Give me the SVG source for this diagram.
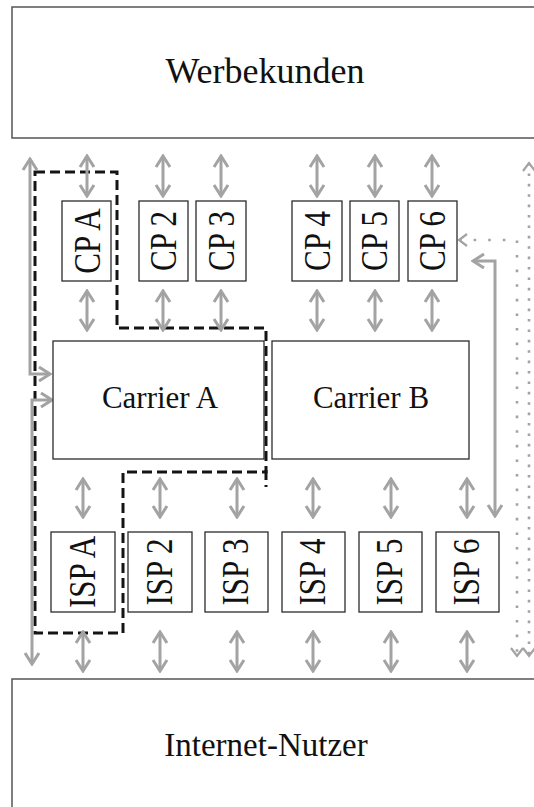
<svg xmlns="http://www.w3.org/2000/svg" width="534" height="807" viewBox="0 0 534 807">
<style>
.box{fill:#fff;stroke:#2b2b2b;stroke-width:1.3}
.big{fill:#fff;stroke:#555;stroke-width:1.5}
.t{font-family:"Liberation Serif","Times New Roman",serif;fill:#111;text-anchor:middle}
.a{fill:none;stroke:#a3a3a3;stroke-width:3;marker-start:url(#ah);marker-end:url(#ah)}
.d{fill:none;stroke:#a3a3a3;stroke-width:2.6;marker-start:url(#dh);marker-end:url(#dh)}
.dash{fill:none;stroke:#141414;stroke-width:3;stroke-dasharray:10 5}
</style>
<defs>
<marker id="ah" viewBox="-14 -9 16 18" refX="0" refY="0" markerWidth="16" markerHeight="18" orient="auto-start-reverse" markerUnits="userSpaceOnUse">
<path d="M-11,-7 L0,0 L-11,7" fill="none" stroke="#a3a3a3" stroke-width="3"/>
</marker>
<marker id="dh" viewBox="-12 -8 14 16" refX="0" refY="0" markerWidth="14" markerHeight="16" orient="auto-start-reverse" markerUnits="userSpaceOnUse">
<path d="M-8,-6 L0,0 L-8,6" fill="none" stroke="#a3a3a3" stroke-width="2.2"/>
</marker>
</defs>
<rect width="534" height="807" fill="#fff"/>
<g id="werbekunden"><rect class="big" x="12" y="7" width="540" height="131"/><text class="t" x="265" y="83" font-size="36">Werbekunden</text></g>
<g id="nutzer"><rect class="big" x="12" y="679" width="540" height="150"/><text class="t" x="266" y="756" font-size="33">Internet-Nutzer</text></g>
<g id="connectors">
<path class="dash" d="M35,172 H117 V328 H266 V472 H123 V633 H35 Z"/>
<path class="dash" d="M266,470 V487"/>
<line class="a" x1="87" y1="156" x2="87" y2="196"/>
<line class="a" x1="163" y1="156" x2="163" y2="196"/>
<line class="a" x1="221" y1="156" x2="221" y2="196"/>
<line class="a" x1="317" y1="156" x2="317" y2="196"/>
<line class="a" x1="375" y1="156" x2="375" y2="196"/>
<line class="a" x1="432" y1="156" x2="432" y2="196"/>
<line class="a" x1="87" y1="291" x2="87" y2="330"/>
<line class="a" x1="163" y1="291" x2="163" y2="330"/>
<line class="a" x1="221" y1="291" x2="221" y2="330"/>
<line class="a" x1="317" y1="291" x2="317" y2="330"/>
<line class="a" x1="375" y1="291" x2="375" y2="330"/>
<line class="a" x1="432" y1="291" x2="432" y2="330"/>
<line class="a" x1="83" y1="479" x2="83" y2="517"/>
<line class="a" x1="160" y1="479" x2="160" y2="517"/>
<line class="a" x1="237" y1="479" x2="237" y2="517"/>
<line class="a" x1="313" y1="479" x2="313" y2="517"/>
<line class="a" x1="391" y1="479" x2="391" y2="517"/>
<line class="a" x1="467" y1="479" x2="467" y2="517"/>
<line class="a" x1="83" y1="632" x2="83" y2="671"/>
<line class="a" x1="160" y1="632" x2="160" y2="671"/>
<line class="a" x1="237" y1="632" x2="237" y2="671"/>
<line class="a" x1="313" y1="632" x2="313" y2="671"/>
<line class="a" x1="391" y1="632" x2="391" y2="671"/>
<line class="a" x1="467" y1="632" x2="467" y2="671"/>
<path class="a" d="M30,159 V374 H50"/>
<path class="a" d="M52,400 H32 V664"/>
<path class="a" d="M473,261 H495 V516"/>
<path class="d" d="M529,163 V656" stroke-dasharray="2.6 7.8"/>
<path class="d" d="M459,240 H517 V656" stroke-dasharray="2.6 12"/>
</g>
<g id="cpA"><rect class="box" x="62" y="201" width="49" height="80"/><text class="t" font-size="37" transform="translate(100,241) rotate(-90) scale(0.84,1)">CP A</text></g>
<g id="cp2"><rect class="box" x="139" y="201" width="49" height="80"/><text class="t" font-size="37" transform="translate(176,241) rotate(-90) scale(0.84,1)">CP 2</text></g>
<g id="cp3"><rect class="box" x="196" y="201" width="50" height="80"/><text class="t" font-size="37" transform="translate(234,241) rotate(-90) scale(0.84,1)">CP 3</text></g>
<g id="cp4"><rect class="box" x="292" y="201" width="50" height="80"/><text class="t" font-size="37" transform="translate(330,241) rotate(-90) scale(0.84,1)">CP 4</text></g>
<g id="cp5"><rect class="box" x="350" y="201" width="49" height="80"/><text class="t" font-size="37" transform="translate(387,241) rotate(-90) scale(0.84,1)">CP 5</text></g>
<g id="cp6"><rect class="box" x="408" y="201" width="49" height="80"/><text class="t" font-size="37" transform="translate(445,241) rotate(-90) scale(0.84,1)">CP 6</text></g>
<g id="carrierA"><rect class="box" x="53" y="341" width="211" height="118"/><text class="t" x="160" y="408" font-size="31">Carrier A</text></g>
<g id="carrierB"><rect class="box" x="272" y="341" width="197" height="118"/><text class="t" x="371" y="408" font-size="31">Carrier B</text></g>
<g id="ispA"><rect class="box" x="51" y="532" width="64" height="80"/><text class="t" font-size="37" transform="translate(95,572) rotate(-90) scale(0.84,1)">ISP A</text></g>
<g id="isp2"><rect class="box" x="128" y="532" width="64" height="80"/><text class="t" font-size="37" transform="translate(172,572) rotate(-90) scale(0.84,1)">ISP 2</text></g>
<g id="isp3"><rect class="box" x="205" y="532" width="63" height="80"/><text class="t" font-size="37" transform="translate(248,572) rotate(-90) scale(0.84,1)">ISP 3</text></g>
<g id="isp4"><rect class="box" x="282" y="532" width="63" height="80"/><text class="t" font-size="37" transform="translate(325,572) rotate(-90) scale(0.84,1)">ISP 4</text></g>
<g id="isp5"><rect class="box" x="359" y="532" width="63" height="80"/><text class="t" font-size="37" transform="translate(402,572) rotate(-90) scale(0.84,1)">ISP 5</text></g>
<g id="isp6"><rect class="box" x="436" y="532" width="63" height="80"/><text class="t" font-size="37" transform="translate(479,572) rotate(-90) scale(0.84,1)">ISP 6</text></g>
</svg>
